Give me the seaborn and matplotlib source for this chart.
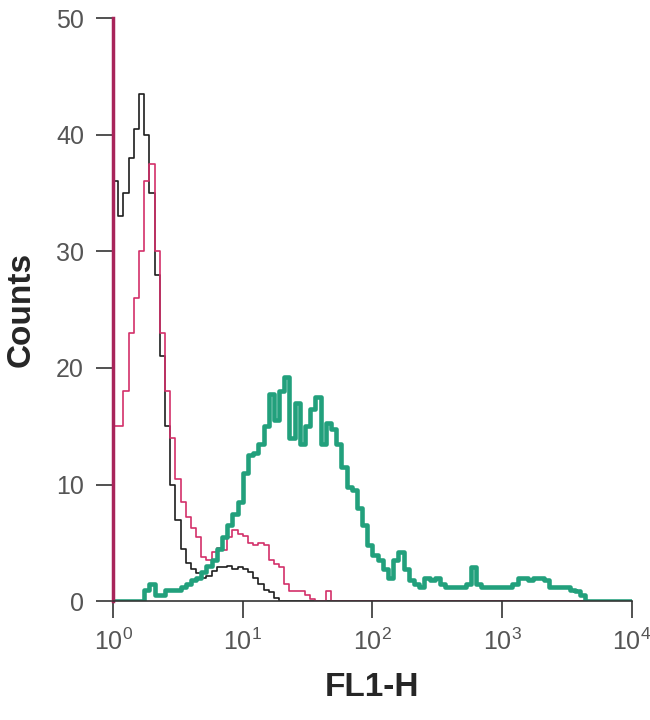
import numpy as np
import seaborn as sns
import matplotlib.pyplot as plt

# FL1-H histogram, 100 bins of 0.04 decade from 10^0 to 10^4
decade_step = 0.04

black_counts = [
    36, 33, 35, 38, 40.5, 43.5, 40, 35, 28, 21,
    15, 10, 7, 4.5, 3.3, 2.8, 2.4, 2, 2.2, 2.6,
    2.9, 2.9, 3, 2.8, 2.9, 2.8, 2.5, 2, 1.5, 1,
    0.8, 0.3, 0, 0, 0, 0, 0, 0, 0, 0,
    0, 0, 0, 0, 0, 0, 0, 0, 0, 0,
    0, 0, 0, 0, 0, 0, 0, 0, 0, 0,
    0, 0, 0, 0, 0, 0, 0, 0, 0, 0,
    0, 0, 0, 0, 0, 0, 0, 0, 0, 0,
    0, 0, 0, 0, 0, 0, 0, 0, 0, 0,
    0, 0, 0, 0, 0, 0, 0, 0, 0, 0,
]

red_counts = [
    15, 15, 18, 23, 26, 30, 36, 37.5, 30, 23,
    18, 14, 10.5, 8.5, 7.2, 6.3, 5.5, 3.8, 3.5, 4.2,
    4.6, 4.4, 5.5, 6.1, 5.8, 5.6, 5, 4.8, 5, 4.8,
    3.5, 3.2, 2.9, 1.5, 0.9, 0.9, 0.9, 0.5, 0.2, 0,
    0, 0.9, 0, 0, 0, 0, 0, 0, 0, 0,
    0, 0, 0, 0, 0, 0, 0, 0, 0, 0,
    0, 0, 0, 0, 0, 0, 0, 0, 0, 0,
    0, 0, 0, 0, 0, 0, 0, 0, 0, 0,
    0, 0, 0, 0, 0, 0, 0, 0, 0, 0,
    0, 0, 0, 0, 0, 0, 0, 0, 0, 0,
]

teal_counts = [
    0, 0, 0, 0, 0, 0, 1, 1.5, 0.5, 0.5,
    1, 1, 1, 1.2, 1.5, 1.8, 2, 2.5, 3, 3.5,
    4.5, 5.5, 6.5, 7.5, 8.5, 11, 12.5, 12.7, 13.5, 15,
    17.8, 15.5, 18, 19.2, 14, 17, 13.5, 15, 16.5, 17.5,
    13.5, 15.3, 14.8, 13.5, 11.5, 9.8, 9.5, 8, 6.5, 4.8,
    4, 3.5, 2.8, 2, 3.5, 4.2, 2.8, 1.8, 1.5, 1.2,
    2, 1.8, 2, 1.5, 1.2, 1.2, 1.2, 1.2, 1.5, 2.9,
    1.5, 1.2, 1.2, 1.2, 1.2, 1.2, 1.2, 1.5, 2, 2,
    1.8, 2, 2, 1.8, 1.2, 1.2, 1.2, 1.2, 1, 0.9,
    0.5, 0, 0, 0, 0, 0, 0, 0, 0, 0,
]

y_ticks = [0, 10, 20, 30, 40, 50]
x_ticks = [1, 10, 100, 1000, 10000]

sns.set_style("white")
plt.rcParams['font.family'] = ['Liberation Sans', 'DejaVu Sans']
plt.rcParams['mathtext.default'] = 'regular'

# bin edges (log spaced); last value repeated so the step reaches the final edge
edges = 10 ** (decade_step * np.arange(len(teal_counts) + 1))

fig = plt.figure(figsize=(6.5, 7.2), dpi=100)
ax = fig.add_axes([0.174, 0.165, 0.798, 0.81])

series = [
    (black_counts, "#1e1e1e", 1.2),
    (red_counts, "#d3306a", 1.2),
    (teal_counts, "#22a07c", 3.3),
]
for counts, color, lw in series:
    sns.lineplot(
        x=edges,
        y=list(counts) + [counts[-1]],
        drawstyle='steps-post',
        color=color,
        linewidth=lw,
        ax=ax
    )

ax.set_xscale('log')
ax.set_xlim(1, 10000)
ax.set_ylim(0, 50)
ax.set_xticks(x_ticks)
ax.set_yticks(y_ticks)
ax.minorticks_off()

for side in ['top', 'right']:
    ax.spines[side].set_visible(False)
ax.spines['left'].set_color('#a8245a')
ax.spines['left'].set_linewidth(2.5)
ax.spines['bottom'].set_color('#333333')
ax.spines['bottom'].set_linewidth(1.2)

ax.tick_params(axis='both', direction='out', length=12, width=1.2,
               color='#333333', labelcolor='#555555', labelsize=18,
               left=True, bottom=True)
ax.tick_params(axis='y', pad=9)
ax.tick_params(axis='x', pad=8)

ax.set_xlabel("FL1-H", fontsize=24, fontweight='bold', labelpad=12)
ax.set_ylabel("Counts", fontsize=24, fontweight='bold', labelpad=14)

plt.savefig("out.png", dpi=100)
